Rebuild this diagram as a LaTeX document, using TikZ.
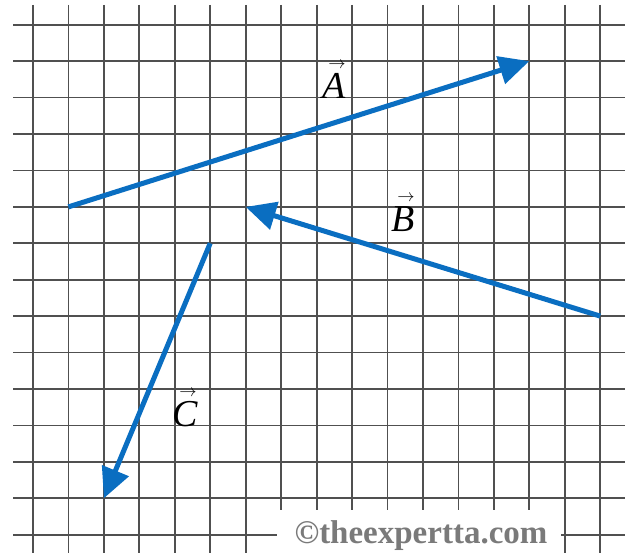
\documentclass[tikz,border=0pt]{standalone}
\usepackage{fontspec}
\setmainfont{Liberation Serif}
\usetikzlibrary{arrows.meta}
\definecolor{vecblue}{HTML}{0A6EC1}
\definecolor{gridgray}{HTML}{505050}
\definecolor{markgray}{HTML}{7A7A7A}
\tikzset{
  gridline/.style={draw=gridgray, line width=1.8pt},
  vecarrow/.style={draw=vecblue, line width=5pt, -{Triangle[length=30pt,width=28pt]}},
  veclabel/.style={inner sep=0pt, anchor=base, font=\fontsize{38}{40}\selectfont},
  watermark/.style={inner sep=0pt, text=markgray, font=\fontsize{33}{36}\selectfont\bfseries}
}
\newcommand{\veclet}[1]{\begin{tabular}[b]{@{}c@{}}\hspace*{6pt}{\fontsize{16}{16}\selectfont$\rightarrow$}\\[-10pt]\textit{#1}\end{tabular}}
\begin{document}
\begin{tikzpicture}[x=1pt,y=-1pt]
\useasboundingbox[fill=white] (0,0) rectangle (628,553);
% grid
\foreach \k in {0,...,16} {
  \draw[gridline] ({33+35.45*\k},5) -- ({33+35.45*\k},553);
}
\foreach \j in {0,...,14} {
  \draw[gridline] (13,{24.7+36.43*\j}) -- (625,{24.7+36.43*\j});
}
% grid points used by vectors
\coordinate (As) at (68.4,206.9);
\coordinate (Ae) at (529.3,61.1);
\coordinate (Bs) at (600.2,316.1);
\coordinate (Be) at (245.7,206.9);
\coordinate (Cs) at (210.2,243.3);
\coordinate (Ce) at (103.9,498.3);
% vectors
\draw[vecarrow] (As) -- (Ae);
\draw[vecarrow] (Bs) -- (Be);
\draw[vecarrow] (Cs) -- (Ce);
% labels
\node[veclabel] (LA) at (334,99) {\veclet{A}};
\node[veclabel] (LB) at (403,231) {\veclet{B}};
\node[veclabel] (LC) at (185,426) {\veclet{C}};
% watermark
\fill[white] (276.7,510) rectangle (561,553);
\node[watermark, anchor=base] (WM) at (421,543.3) {©theexpertta.com};
\end{tikzpicture}
\end{document}
